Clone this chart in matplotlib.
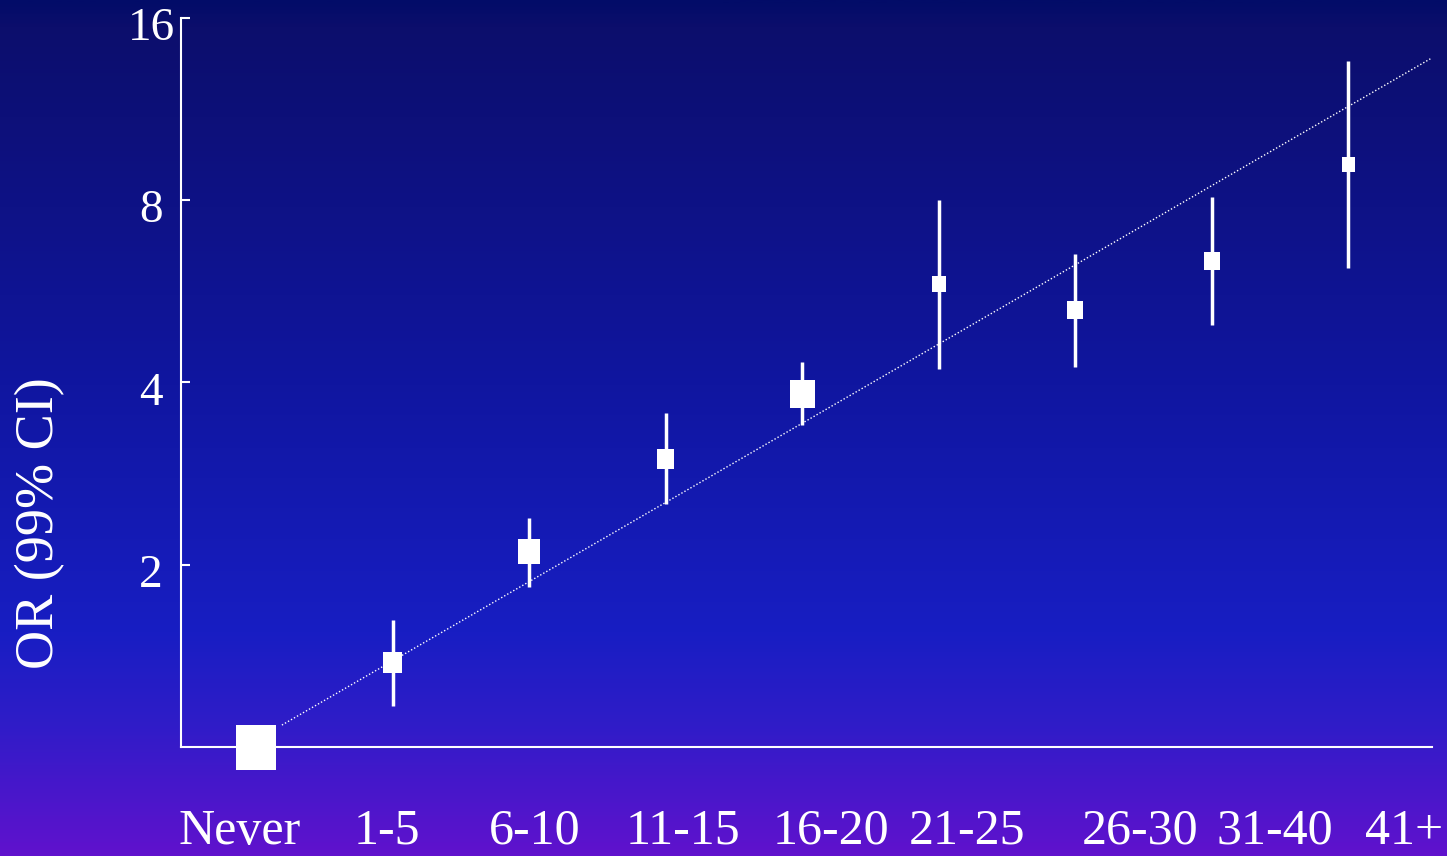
import numpy as np
import matplotlib
matplotlib.use("Agg")
import matplotlib.pyplot as plt
from matplotlib import transforms
from matplotlib.colors import LinearSegmentedColormap
from matplotlib.path import Path

# Odds ratios (99% CI) by exposure category
categories = ["Never", "1-5", "6-10", "11-15", "16-20", "21-25", "26-30", "31-40", "41+"]
odds_ratio = [1.00, 1.38, 2.10, 2.99, 3.83, 5.81, 5.27, 6.35, 9.18]
ci_low = [1.00, 1.17, 1.84, 2.52, 3.40, 4.21, 4.24, 4.98, 6.18]
ci_high = [1.00, 1.62, 2.39, 3.56, 4.32, 8.00, 6.52, 8.09, 13.6]
# Fitted log-linear trend (category index, OR) at its two ends
trend_x = [0.19, 8.60]
trend_or = [1.087, 13.7]
y_ticks = [2, 4, 8, 16]

# Box heights in pixels (proportional to the weight of each estimate)
box_px = [45, 21, 25, 20, 28, 16, 18, 18, 15]
# Where each category label sits along the x axis
label_pos = [-0.117, 0.959, 2.043, 3.127, 4.211, 5.207, 6.474, 7.462, 8.407]

W, H, DPI = 1447, 856, 100
fig = plt.figure(figsize=(W / DPI, H / DPI), dpi=DPI)

# Vertical background gradient: navy at top, blue, purple at bottom
bg = fig.add_axes([0, 0, 1, 1], zorder=-10)
stops = [
    (0.00, (2, 12, 104)),
    (0.03, (12, 14, 108)),
    (0.45, (16, 22, 160)),
    (0.74, (24, 30, 195)),
    (0.85, (48, 28, 200)),
    (1.00, (96, 18, 205)),
]
cmap = LinearSegmentedColormap.from_list(
    "bg", [(p, tuple(c / 255 for c in rgb)) for p, rgb in stops])
grad = np.linspace(0, 1, 512).reshape(-1, 1)
bg.imshow(grad, aspect="auto", cmap=cmap, extent=[0, 1, 1, 0])
bg.set_axis_off()

font = "Liberation Serif"
white = "white"

ax = fig.add_axes([181 / W, 1 - 747 / H, (1432 - 181) / W, (747 - 18) / H])
ax.patch.set_alpha(0)
ax.set_yscale("log", base=2)
ax.set_ylim(1, 16)
ax.set_xlim(-0.549, 8.612)

x = np.arange(len(categories))

# Trend line
ax.plot(trend_x, trend_or, color=white, lw=1.0, dashes=(1, 1.5), zorder=2)

# Confidence intervals
ax.vlines(x, ci_low, ci_high, color=white, lw=2.5, zorder=3)

# Boxes: slightly taller than wide
bw = 0.88
box = Path([(-bw / 2, -0.5), (bw / 2, -0.5), (bw / 2, 0.5), (-bw / 2, 0.5), (-bw / 2, -0.5)],
           [Path.MOVETO, Path.LINETO, Path.LINETO, Path.LINETO, Path.CLOSEPOLY])
sizes = [(h * 72 / DPI) ** 2 for h in box_px]
ax.scatter(x, odds_ratio, s=sizes, marker=box, color=white, linewidths=0,
           zorder=4, clip_on=False)

# Spines and ticks
for side in ("top", "right"):
    ax.spines[side].set_visible(False)
for side in ("left", "bottom"):
    ax.spines[side].set_color(white)
    ax.spines[side].set_linewidth(1.5)
ax.set_yticks(y_ticks)
ax.yaxis.set_minor_locator(matplotlib.ticker.NullLocator())
ax.set_yticklabels([])
ax.tick_params(axis="y", direction="in", length=6.5, width=1.5, color=white)
ax.set_xticks([])

# Y tick labels, centred to the left of the axis
ylab_tr = transforms.offset_copy(ax.get_yaxis_transform(), fig=fig, y=-11 * 72 / DPI,
                                 units="points")
for t in y_ticks:
    ax.text(-0.024, t, str(t), transform=ylab_tr, ha="center", va="center",
            color=white, fontsize=34, family=font)

# Category labels along the bottom
xlab_tr = transforms.blended_transform_factory(ax.transData, fig.transFigure)
for pos, name in zip(label_pos, categories):
    ax.text(pos, 1 / H, name, transform=xlab_tr, ha="center", va="bottom",
            color=white, fontsize=36, family=font)

fig.text(40 / W, 1 - 523 / H, "OR (99% CI)", rotation=90, ha="center", va="center",
         color=white, fontsize=39, family=font)

fig.savefig("out.png", dpi=DPI)
